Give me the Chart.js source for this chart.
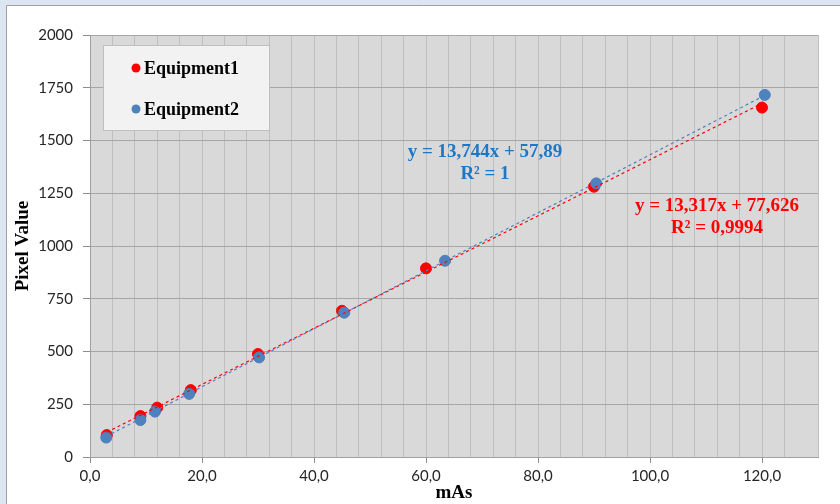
<!DOCTYPE html>
<html>
<head>
<meta charset="utf-8">
<script src="https://cdn.jsdelivr.net/npm/chart.js@4/dist/chart.umd.min.js"></script>
<style>
  html, body { margin: 0; padding: 0; background: #dce6f2; }
  canvas { display: block; }
</style>
</head>
<body>
<canvas id="chart" width="840" height="504"></canvas>
<script>
// values
const seriesNames = ['Equipment1', 'Equipment2'];
const mAs1 = [3, 9, 12, 18, 30, 45, 60, 90, 120];
const pixel1 = [104, 194, 234, 317, 488, 693, 894, 1281, 1656];
const mAs2 = [2.9, 9, 11.6, 17.7, 30.2, 45.4, 63.4, 90.4, 120.5];
const pixel2 = [92, 175, 215, 299, 472, 684, 930, 1297, 1716];

// trendline coefficients as printed on the chart
const slopes = [13.317, 13.744];
const intercepts = [77.626, 57.89];
const eqLabels = [['y = 13,317x + 77,626', 'R² = 0,9994'], ['y = 13,744x + 57,89', 'R² = 1']];

const RED = '#ff0000';
const BLUE = '#4f81bd';
const SERIF = '"Liberation Serif", "Times New Roman", serif';

const toPoints = (xs, ys) => xs.map((x, i) => ({ x: x, y: ys[i] }));
const trend = (xs, k) => {
  const lo = Math.min(...xs), hi = Math.max(...xs);
  return [{ x: lo, y: slopes[k] * lo + intercepts[k] }, { x: hi, y: slopes[k] * hi + intercepts[k] }];
};

const frame = {
  id: 'frame',
  beforeDraw(chart) {
    const c = chart.ctx, a = chart.chartArea;
    c.save();
    c.fillStyle = '#dce6f2';
    c.fillRect(0, 0, chart.width, chart.height);
    c.fillStyle = '#ffffff';
    c.fillRect(7, 6, chart.width - 7, chart.height - 6);
    c.strokeStyle = '#a0a0a0';
    c.lineWidth = 1;
    c.beginPath();
    c.moveTo(6.5, chart.height);
    c.lineTo(6.5, 5.5);
    c.lineTo(chart.width, 5.5);
    c.stroke();
    c.fillStyle = '#d9d9d9';
    c.fillRect(a.left, a.top, a.right - a.left, a.bottom - a.top);
    c.restore();
  }
};

const notes = {
  id: 'notes',
  afterDraw(chart) {
    const c = chart.ctx;
    c.save();
    // legend box
    c.fillStyle = '#f2f2f2';
    c.fillRect(103, 45, 166, 85);
    c.strokeStyle = '#bfbfbf';
    c.lineWidth = 1;
    c.strokeRect(103.5, 45.5, 166, 85);
    const cols = [RED, BLUE];
    c.font = 'bold 18px ' + SERIF;
    c.textBaseline = 'middle';
    c.textAlign = 'left';
    seriesNames.forEach((name, i) => {
      const y = 68 + i * 41;
      c.fillStyle = cols[i];
      c.beginPath();
      c.arc(136, y, 4.5, 0, Math.PI * 2);
      c.fill();
      c.fillStyle = '#000000';
      c.fillText(name, 144, y + 1);
    });
    // trendline equations
    c.font = 'bold 19px ' + SERIF;
    c.textAlign = 'center';
    const spots = [[717, 206], [485, 152]];
    eqLabels.forEach((lines, i) => {
      c.fillStyle = i === 0 ? RED : '#1f77c4';
      lines.forEach((t, j) => c.fillText(t, spots[i][0], spots[i][1] + j * 22));
    });
    c.restore();
  }
};

new Chart(document.getElementById('chart'), {
  type: 'scatter',
  data: {
    datasets: [
      {
        label: 'trend2', data: trend(mAs2, 1), type: 'line', showLine: true,
        borderColor: BLUE, borderWidth: 1.2, borderDash: [3, 3], pointRadius: 0, order: -2
      },
      {
        label: 'trend1', data: trend(mAs1, 0), type: 'line', showLine: true,
        borderColor: RED, borderWidth: 1.2, borderDash: [3, 3], pointRadius: 0, order: -1
      },
      {
        label: seriesNames[1], data: toPoints(mAs2, pixel2),
        backgroundColor: BLUE, borderColor: BLUE, pointRadius: 5.5, order: 0
      },
      {
        label: seriesNames[0], data: toPoints(mAs1, pixel1),
        backgroundColor: RED, borderColor: RED, pointRadius: 5.5, order: 1
      }
    ]
  },
  options: {
    responsive: false,
    devicePixelRatio: 1,
    animation: false,
    events: [],
    layout: { padding: { top: 35, right: 22, left: 0, bottom: 0 } },
    plugins: { legend: { display: false }, tooltip: { enabled: false } },
    scales: {
      x: {
        type: 'linear', min: 0, max: 130,
        afterFit: (s) => { s.height = 47; },
        grid: {
          color: '#bfbfbf',
          tickLength: 6,
          tickColor: (ctx) => (ctx.tick && ctx.tick.value % 20 === 0 ? '#8c8c8c' : 'rgba(0,0,0,0)')
        },
        border: { color: '#a0a0a0' },
        ticks: {
          stepSize: 4, autoSkip: false, maxRotation: 0, padding: 4,
          color: '#262626', font: { family: 'Lato, sans-serif', size: 15 },
          callback: (v) => (v % 20 === 0 ? v.toFixed(1).replace('.', ',') : '')
        },
        title: {
          display: true, text: 'mAs', color: '#000000',
          font: { family: SERIF, size: 19, weight: 'bold' }, padding: { top: 0, bottom: 0 }
        }
      },
      y: {
        type: 'linear', min: 0, max: 2000,
        afterFit: (s) => { s.width = 90; },
        grid: { color: '#a6a6a6', tickLength: 7, tickColor: '#8c8c8c' },
        border: { color: '#a0a0a0' },
        ticks: {
          stepSize: 250, padding: 10,
          color: '#262626', font: { family: 'Lato, sans-serif', size: 15 },
          callback: (v) => String(v)
        },
        title: {
          display: true, text: 'Pixel Value', color: '#000000',
          font: { family: SERIF, size: 19, weight: 'bold' }, padding: { top: 12, bottom: 0 }
        }
      }
    }
  },
  plugins: [frame, notes]
});
</script>
</body>
</html>
